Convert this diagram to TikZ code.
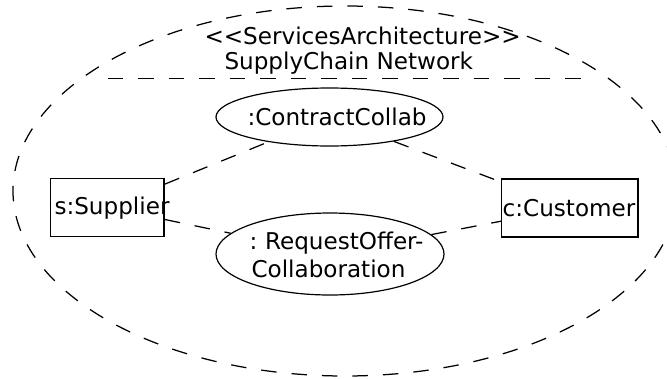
\documentclass[tikz,border=0pt]{standalone}
\usepackage{fontspec}
\setmainfont{DejaVu Sans}
\usetikzlibrary{shapes.geometric}
\begin{document}
\begin{tikzpicture}[x=1pt,y=-1pt,
  every node/.style={font=\fontsize{23.1}{27}\selectfont},
  lbl/.style={anchor=base west, inner sep=0pt, outer sep=0pt},
  partbox/.style={draw, rectangle, line width=1.4pt, inner sep=0pt},
  collab/.style={draw, ellipse, line width=1.2pt, inner sep=0pt},
  dsh/.style={line width=1.25pt, dash pattern=on 15.5pt off 15pt}]
\useasboundingbox (0,0) rectangle (667,378);

% services architecture boundary and its name compartment
\draw[dsh] (345,191) ellipse [x radius=332pt, y radius=185pt];
\coordinate (sepL) at (107.5,78.5);
\coordinate (sepR) at (583.5,78.5);
\draw[dsh] (sepL) -- (sepR);
\node[lbl] (stereo) at (204.5,44) {<\kern0pt<ServicesArchitecture>\kern0pt>};
\node[lbl] (archname) at (224.5,69) {SupplyChain Network};

% participants
\node[partbox, minimum width=113.3pt, minimum height=58.4pt] (sup) at (107.4,207.5) {};
\node[partbox, minimum width=136.3pt, minimum height=58pt] (cust) at (569.9,208) {};
\node[lbl] (suptext) at (54.5,214.3) {s:Supplier};
\node[lbl] (custtext) at (502.7,216.7) {c:Customer};

% service collaborations
\node[collab, minimum width=227pt, minimum height=58pt] (cc) at (329.5,117) {};
\node[collab, minimum width=228pt, minimum height=82pt] (ro) at (330,254) {};
\node[lbl] (cctext) at (247.5,125) {:ContractCollab};
\node[lbl] (rotext1) at (249.5,249) {:\kern-2pt{} RequestOffer-};
\node[lbl] (rotext2) at (251.5,277) {Collaboration};

% role bindings
\draw[dsh] (sup) -- (cc);
\draw[dsh] (cc) -- (cust);
\draw[dsh] (sup) -- (ro);
\draw[dsh] (ro) -- (cust);
\end{tikzpicture}
\end{document}
